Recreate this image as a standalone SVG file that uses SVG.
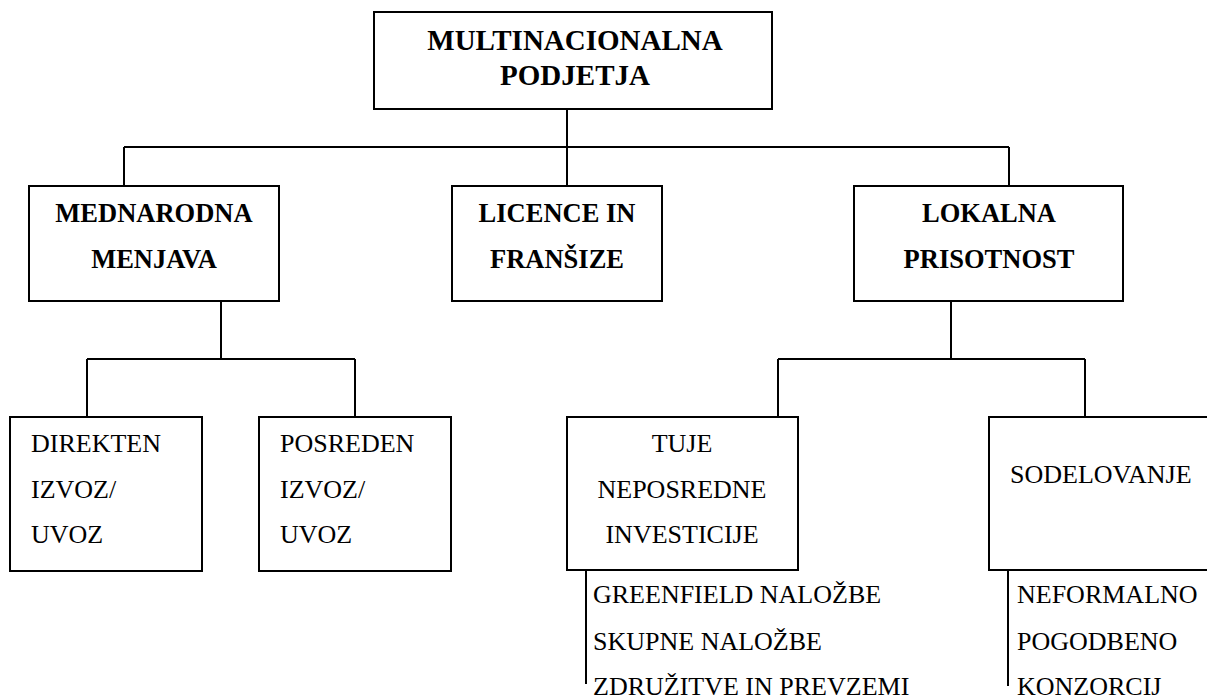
<svg xmlns="http://www.w3.org/2000/svg" width="1207" height="697" viewBox="0 0 1207 697">
  <style>
    .box { fill: #ffffff; stroke: #000000; stroke-width: 2; }
    .link { fill: none; stroke: #000000; stroke-width: 2; }
    .serif { font-family: 'Liberation Serif', Tinos, 'Times New Roman', Times, 'Noto Serif', 'DejaVu Serif', FreeSerif, 'Nimbus Roman', serif; }
    .head { font-weight: bold; font-size: 26.5px; fill: #000000; text-anchor: middle; }
    .top { font-size: 29px; }
    .body { font-size: 26px; fill: #000000; }
    .mid { text-anchor: middle; }
  </style>
  <rect width="1207" height="697" fill="#ffffff"/>

  <!-- connectors -->
  <g id="connectors" class="link">
    <path d="M567 109 V147 M124 147 H1009 M124 147 V186 M567 147 V186 M1009 147 V186"/>
    <path d="M221 301 V359 M87 359 H355 M87 359 V417 M355 359 V417"/>
    <path d="M951 301 V359 M778 359 H1085 M778 359 V417 M1085 359 V417"/>
    <path d="M586 570 V684"/>
    <path d="M1008 570 V686"/>
  </g>

  <g class="serif">
    <g id="root">
      <rect class="box" x="374" y="12" width="398" height="97"/>
      <text class="head top" x="575" y="50">MULTINACIONALNA</text>
      <text class="head top" x="575" y="85">PODJETJA</text>
    </g>

    <g id="mednarodna-menjava">
      <rect class="box" x="29" y="186" width="250" height="115"/>
      <text class="head" x="154" y="222">MEDNARODNA</text>
      <text class="head" x="154" y="268">MENJAVA</text>
    </g>

    <g id="licence-fransize">
      <rect class="box" x="452" y="186" width="210" height="115"/>
      <text class="head" x="557" y="222">LICENCE IN</text>
      <text class="head" x="557" y="268">FRANŠIZE</text>
    </g>

    <g id="lokalna-prisotnost">
      <rect class="box" x="854" y="186" width="269" height="115"/>
      <text class="head" x="989" y="222">LOKALNA</text>
      <text class="head" x="989" y="268">PRISOTNOST</text>
    </g>

    <g id="direkten">
      <rect class="box" x="10" y="417" width="192" height="154"/>
      <text class="body" x="31" y="452">DIREKTEN</text>
      <text class="body" x="31" y="498">IZVOZ/</text>
      <text class="body" x="31" y="543">UVOZ</text>
    </g>

    <g id="posreden">
      <rect class="box" x="259" y="417" width="192" height="154"/>
      <text class="body" x="280" y="452">POSREDEN</text>
      <text class="body" x="280" y="498">IZVOZ/</text>
      <text class="body" x="280" y="543">UVOZ</text>
    </g>

    <g id="tuje-investicije">
      <rect class="box" x="567" y="417" width="231" height="153"/>
      <text class="body mid" x="682" y="452">TUJE</text>
      <text class="body mid" x="682" y="498">NEPOSREDNE</text>
      <text class="body mid" x="682" y="543">INVESTICIJE</text>
      <text class="body" x="593" y="603">GREENFIELD NALOŽBE</text>
      <text class="body" x="593" y="650">SKUPNE NALOŽBE</text>
      <text class="body" x="593" y="695">ZDRUŽITVE IN PREVZEMI</text>
    </g>

    <g id="sodelovanje">
      <rect class="box" x="989" y="417" width="230" height="153"/>
      <text class="body" x="1010" y="483">SODELOVANJE</text>
      <text class="body" x="1017" y="603">NEFORMALNO</text>
      <text class="body" x="1017" y="650">POGODBENO</text>
      <text class="body" x="1017" y="695">KONZORCIJ</text>
    </g>
  </g>
</svg>
